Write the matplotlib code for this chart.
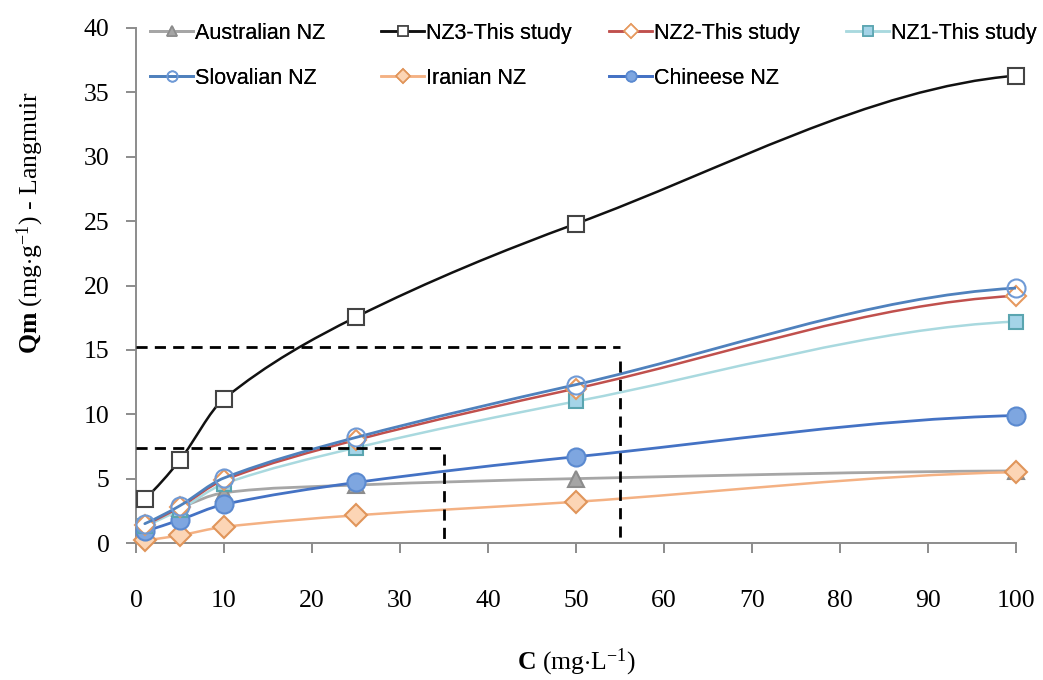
import matplotlib
matplotlib.use("Agg")
import matplotlib.pyplot as plt
from matplotlib.path import Path
from matplotlib.patches import PathPatch
from matplotlib.lines import Line2D
import numpy as np

plt.rcParams["mathtext.fontset"] = "custom"
plt.rcParams["mathtext.rm"] = "Liberation Serif"
plt.rcParams["mathtext.bf"] = "Liberation Serif:bold"
plt.rcParams["mathtext.it"] = "Liberation Serif:italic"

# ---- data ----
C = [1, 5, 10, 25, 50, 100]
australian = [1.3, 2.7, 3.9, 4.5, 5.0, 5.6]
nz3 = [3.4, 6.45, 11.2, 17.55, 24.8, 36.3]
nz2 = [1.4, 2.8, 4.9, 8.0, 12.0, 19.2]
nz1 = [1.3, 2.6, 4.6, 7.4, 11.0, 17.2]
slovalian = [1.5, 2.9, 5.05, 8.2, 12.3, 19.8]
iranian = [0.2, 0.6, 1.25, 2.15, 3.2, 5.5]
chineese = [0.9, 1.8, 3.0, 4.7, 6.7, 9.9]

labels = ["Australian NZ", "NZ3-This study", "NZ2-This study", "NZ1-This study",
          "Slovalian NZ", "Iranian NZ", "Chineese NZ"]
x_ticks = [0, 10, 20, 30, 40, 50, 60, 70, 80, 90, 100]
y_ticks = [0, 5, 10, 15, 20, 25, 30, 35, 40]
box_small = (35, 7.4)
box_large = (55, 15.2)

serif = ["Liberation Serif", "DejaVu Serif"]
legfont = ["Liberation Sans", "DejaVu Sans"]

fig = plt.figure(figsize=(10.43, 6.80), dpi=100)
ax = fig.add_axes([136/1043, 1-543/680, 880/1043, 515/680])


def smooth_path(xs, ys):
    # smoothed line through the points (cubic Hermite pieces drawn as Bezier curves)
    x = np.asarray(xs, float)
    y = np.asarray(ys, float)
    n = len(x)
    h = np.diff(x)
    d = np.diff(y) / h
    s = np.zeros(n)
    for i in range(1, n - 1):
        s[i] = (y[i + 1] - y[i - 1]) / (x[i + 1] - x[i - 1])
    s[0] = max(2 * d[0] - s[1], 0.0)
    s[-1] = 0.25 * d[-1]
    verts = [(x[0], y[0])]
    codes = [Path.MOVETO]
    for i in range(n - 1):
        verts += [(x[i] + h[i] / 3, y[i] + s[i] * h[i] / 3),
                  (x[i + 1] - h[i] / 3, y[i + 1] - s[i + 1] * h[i] / 3),
                  (x[i + 1], y[i + 1])]
        codes += [Path.CURVE4] * 3
    return Path(verts, codes)


series = [
    # (values, line color, lw, marker, ms, mfc, mec, label, z)
    (australian, "#a6a6a6", 2.0, "^", 11, "#a5a5a5", "#8c8c8c", labels[0], 3),
    (iranian, "#f4b183", 1.8, "D", 11, "#fcd5b5", "#e0955a", labels[5], 3),
    (chineese, "#4472c4", 2.0, "o", 13, "#7ea6e0", "#5b8ad0", labels[6], 4),
    (nz1, "#a9d9df", 1.8, "s", 10, "#a4d4e8", "#5aa5b0", labels[3], 5),
    (nz2, "#c0504d", 1.8, "D", 10, "white", "#e6995f", labels[2], 6),
    (slovalian, "#4f81bd", 2.0, "o", 13, "none", "#6f9ad6", labels[4], 7),
    (nz3, "#111111", 1.8, "s", 11, "white", "#444444", labels[1], 8),
]

handles = {}
for vals, lc, lw, mk, ms, mfc, mec, lab, z in series:
    patch = PathPatch(smooth_path(C, vals), facecolor="none", edgecolor=lc,
                      lw=lw, zorder=z, capstyle="round", joinstyle="round")
    ax.add_patch(patch)
    ax.plot(C, vals, linestyle="none", marker=mk, ms=ms, mfc=mfc, mec=mec,
            mew=1.5, zorder=z + 0.5, clip_on=False)
    handles[lab] = Line2D([], [], color=lc, lw=lw, marker=mk, ms=7.5, mfc=mfc,
                          mec=mec, mew=1.2)

# dashed boxes
for bx, by in (box_small, box_large):
    ax.plot([0, bx], [by, by], color="black", ls=(0, (4, 2.6)), lw=2.0, zorder=10)
    ax.plot([bx, bx], [by * 0.93, 0], color="black", ls=(0, (4, 2.6)), lw=2.0, zorder=10)

ax.set_xlim(0, 100)
ax.set_ylim(0, 40)
ax.set_xticks(x_ticks)
ax.set_yticks(y_ticks)
for s in ("top", "right"):
    ax.spines[s].set_visible(False)
for s in ("left", "bottom"):
    ax.spines[s].set_color("#8c8c8c")
    ax.spines[s].set_linewidth(1.4)
ax.tick_params(axis="both", direction="out", length=7, width=1.4, color="#8c8c8c",
               labelsize=18.5)
ax.tick_params(axis="y", pad=12)
ax.tick_params(axis="x", pad=27)
for t in ax.get_xticklabels() + ax.get_yticklabels():
    t.set_fontfamily(serif)

# axis labels with bold part
fig.text(576/1043, 1-662/680, r"$\mathbf{C}$ (mg$\cdot$L$^{\mathrm{-1}}$)",
         ha="center", va="center", fontsize=18.5, family=serif)
fig.text(30/1043, 1-223/680, r"$\mathbf{Qm}$ (mg$\cdot$g$^{\mathrm{-1}}$) - Langmuir",
         ha="center", va="center", rotation=90, fontsize=18.5, family=serif)

# legend: one small legend per column, placed like the reference
columns = [
    ([labels[0], labels[4]], 150),
    ([labels[1], labels[5]], 381),
    ([labels[2], labels[6]], 609),
    ([labels[3]], 846),
]
for labs, xpix in columns:
    lg = fig.legend([handles[l] for l in labs], labs, loc="upper left",
                    bbox_to_anchor=(xpix/1043, 1-23/680), frameon=False,
                    prop={"family": legfont, "size": 15.5}, handlelength=2.0,
                    handletextpad=0.1, labelspacing=1.1,
                    borderaxespad=0, borderpad=0)
    fig.add_artist(lg)

fig.savefig("out.png", dpi=100)
